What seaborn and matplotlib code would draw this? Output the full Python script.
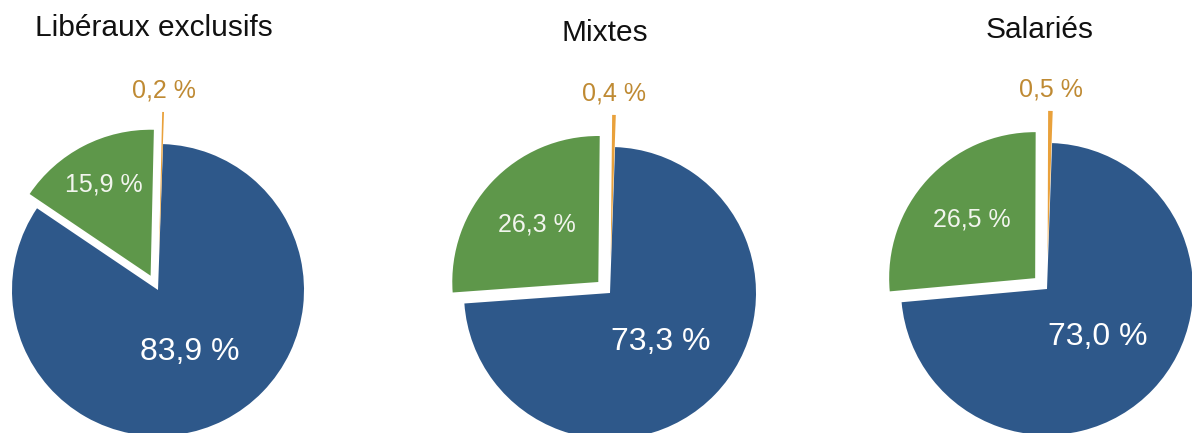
import matplotlib
matplotlib.use("Agg")
import matplotlib.pyplot as plt
import numpy as np
import seaborn as sns

# répartition par mode d'exercice (en %)
groups = ["Libéraux exclusifs", "Mixtes", "Salariés"]
main_share = [83.9, 73.3, 73.0]
second_share = [15.9, 26.3, 26.5]
third_share = [0.2, 0.4, 0.5]

sns.set_theme(style="white")
plt.rcParams["font.family"] = ["Liberation Sans", "DejaVu Sans"]

colors = sns.color_palette(["#2E588A", "#5E974A", "#E9A13B"])
label_colors = ["#FFFFFF", "#F2F5EE", "#BF8A33"]
label_sizes = [23, 18, 18]

W, H = 1192, 433
R_PX = 146                     # pie radius in pixels
S = 420                        # side of each axes box in pixels
LIM = S / 2 / R_PX
centers_px = [(158, 290), (610, 293), (1047, 289)]
title_px = [(154, 28), (605, 33), (1040, 30)]
green_dist = [0.70, 0.58, 0.59]


def fmt(v):
    return f"{v:.1f}".replace(".", ",") + " %"


fig = plt.figure(figsize=(W / 100, H / 100), dpi=100)

for i, name in enumerate(groups):
    cx, cy = centers_px[i]
    ax = fig.add_axes([(cx - S / 2) / W, (H - cy - S / 2) / H, S / W, S / H])
    vals = [main_share[i], second_share[i], third_share[i]]
    wedges, _ = ax.pie(vals, colors=colors, startangle=88, counterclock=False,
                       explode=(0, 0.11, 0.22), radius=1,
                       wedgeprops=dict(linewidth=0))
    ax.set_xlim(-LIM, LIM)
    ax.set_ylim(-LIM, LIM)
    ax.axis("off")

    dists = [0.48, green_dist[i], 1.15]
    for k, w in enumerate(wedges):
        theta = np.radians((w.theta1 + w.theta2) / 2)
        wx, wy = w.center
        ax.text(wx + dists[k] * np.cos(theta), wy + dists[k] * np.sin(theta),
                fmt(vals[k]), ha="center", va="center",
                color=label_colors[k], fontsize=label_sizes[k], clip_on=False)

    tx, ty = title_px[i]
    fig.text(tx / W, 1 - ty / H, name, ha="center", va="center",
             fontsize=21.5, color="#111111")

fig.savefig("out.png", dpi=100)
